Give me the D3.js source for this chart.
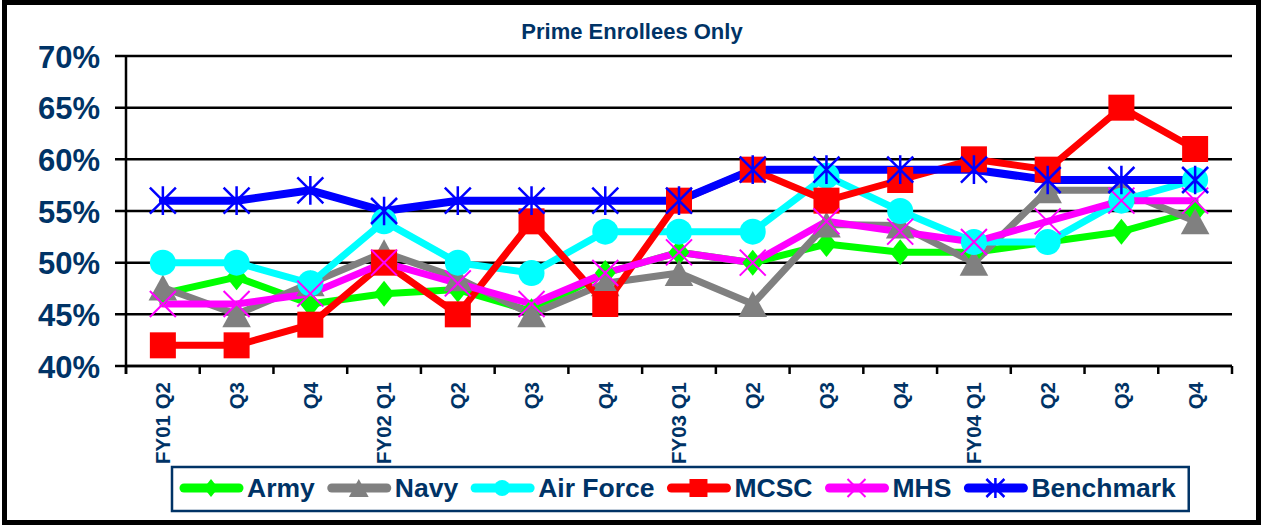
<!DOCTYPE html>
<html>
<head>
<meta charset="utf-8">
<script src="https://cdn.jsdelivr.net/npm/d3@7"></script>
<style>
  html, body { margin: 0; padding: 0; background: #fff; }
  svg { display: block; font-family: "Liberation Sans", Arial, sans-serif; }
</style>
</head>
<body>
<svg id="chart" width="1263" height="527"></svg>
<script>
// ---- data ----
const categories = ["FY01 Q2","Q3","Q4","FY02 Q1","Q2","Q3","Q4","FY03 Q1","Q2","Q3","Q4","FY04 Q1","Q2","Q3","Q4"];
const army      = [47, 48.6, 46, 47, 47.4, 45.3, 49, 51, 50, 51.8, 51, 51, 52, 53, 55];
const navy      = [47.6, 45, 48, 51, 48.5, 45, 48, 49, 46, 53.7, 53.6, 50, 57, 57, 54];
const airForce  = [50, 50, 48, 54, 50, 49, 53, 53, 53, 58.4, 55, 52, 52, 56, 58];
const mcsc      = [42, 42, 44, 50, 45, 54, 46, 56, 59, 56, 58, 60, 59, 65, 61];
const mhs       = [46, 46, 47, 50, 48, 46, 49, 51, 50, 54, 53, 52, 54, 56, 56];
const benchmark = [56, 56, 57, 55, 56, 56, 56, 56, 59, 59, 59, 59, 58, 58, 58];
const seriesNames = ["Army", "Navy", "Air Force", "MCSC", "MHS", "Benchmark"];
const yTickValues = [40, 45, 50, 55, 60, 65, 70];
const titleText = "Prime Enrollees Only";

// ---- styles ----
const colors = ["#00FF00", "#808080", "#00FFFF", "#FF0000", "#FF00FF", "#0000FF"];
const markers = ["diamond", "triangle", "circle", "square", "x", "asterisk"];
const lineWidths = [7, 7, 7, 7, 7, 8];
const textColor = "#003366";

const series = [army, navy, airForce, mcsc, mhs, benchmark].map((vals, i) => ({
  name: seriesNames[i], values: vals, color: colors[i], marker: markers[i], width: lineWidths[i]
}));

const svg = d3.select("#chart");

// outer border
svg.append("rect").attr("x", 4.5).attr("y", 2.5).attr("width", 1254).attr("height", 520)
  .attr("fill", "#fff").attr("stroke", "#000").attr("stroke-width", 5);

// title
svg.append("text").attr("x", 632).attr("y", 39).attr("text-anchor", "middle")
  .attr("font-size", 22).attr("font-weight", "bold").attr("fill", textColor).text(titleText);

const pLeft = 126, pRight = 1232, pTop = 56, pBottom = 366;
const x = d3.scaleBand().domain(d3.range(categories.length)).range([pLeft, pRight]).padding(0);
const y = d3.scaleLinear().domain([40, 70]).range([pBottom, pTop]);
const cx = i => x(i) + x.bandwidth() / 2;

// gridlines
svg.append("g").selectAll("line").data(yTickValues).join("line")
  .attr("x1", pLeft - 11).attr("x2", pRight).attr("y1", d => y(d)).attr("y2", d => y(d))
  .attr("stroke", "#000").attr("stroke-width", 2.5);

// y axis (labels)
const yAxis = d3.axisLeft(y).tickValues(yTickValues).tickSize(0).tickPadding(26)
  .tickFormat(d => d + "%");
const gy = svg.append("g").attr("transform", `translate(${pLeft},0)`).call(yAxis);
gy.select(".domain").remove();
gy.selectAll("text").attr("font-size", 31).attr("font-weight", "bold").attr("fill", textColor)
  .attr("font-family", "'Liberation Sans', Arial, sans-serif").attr("dy", "0.36em");

// y axis line
svg.append("line").attr("x1", pLeft).attr("x2", pLeft).attr("y1", pTop).attr("y2", pBottom + 8)
  .attr("stroke", "#000").attr("stroke-width", 2.5);
// x axis line
svg.append("line").attr("x1", pLeft).attr("x2", pRight).attr("y1", pBottom).attr("y2", pBottom)
  .attr("stroke", "#000").attr("stroke-width", 2.5);
// x boundary ticks
svg.append("g").selectAll("line").data(d3.range(categories.length + 1)).join("line")
  .attr("x1", i => pLeft + i * x.step()).attr("x2", i => pLeft + i * x.step())
  .attr("y1", pBottom).attr("y2", pBottom + 8).attr("stroke", "#000").attr("stroke-width", 2.5);

// x axis labels
const xAxis = d3.axisBottom(x).tickSize(0).tickFormat(i => categories[i]);
const gx = svg.append("g").attr("transform", `translate(0,${pBottom})`).call(xAxis);
gx.select(".domain").remove();
gx.selectAll("text")
  .attr("font-size", 20.5).attr("font-weight", "bold").attr("fill", textColor)
  .attr("font-family", "'Liberation Sans', Arial, sans-serif")
  .attr("text-anchor", "end").attr("transform", "translate(0,16) rotate(-90)")
  .attr("x", 0).attr("y", 0).attr("dy", "0.36em");

// marker drawing
function drawMarker(g, type, color, s) {
  if (type === "diamond") {
    g.append("path").attr("d", `M0,${-s}L${s*0.8},0L0,${s}L${-s*0.8},0Z`).attr("fill", color);
  } else if (type === "triangle") {
    g.append("path").attr("d", `M0,${-s}L${s*1.1},${s}L${-s*1.1},${s}Z`).attr("fill", color);
  } else if (type === "circle") {
    g.append("circle").attr("r", s).attr("fill", color);
  } else if (type === "square") {
    g.append("rect").attr("x", -s).attr("y", -s).attr("width", 2*s).attr("height", 2*s).attr("fill", color);
  } else if (type === "x" || type === "asterisk") {
    const sw = type === "x" ? 2 : 2.5;
    g.append("path").attr("d", `M${-s},${-s}L${s},${s}M${-s},${s}L${s},${-s}` + (type === "asterisk" ? `M0,${-s*1.1}L0,${s*1.1}` : ""))
      .attr("stroke", color).attr("stroke-width", sw).attr("fill", "none");
  }
}

const line = d3.line().x((d, i) => cx(i)).y(d => y(d));

// lines first
svg.append("g").selectAll("path").data(series).join("path")
  .attr("d", s => line(s.values)).attr("fill", "none")
  .attr("stroke", s => s.color).attr("stroke-width", s => s.width)
  .attr("stroke-linejoin", "round").attr("stroke-linecap", "round");

// markers
const mg = svg.append("g");
series.forEach(s => {
  s.values.forEach((v, i) => {
    const g = mg.append("g").attr("transform", `translate(${cx(i)},${y(v)})`);
    drawMarker(g, s.marker, s.color, 13);
  });
});

// legend
const legend = svg.append("g");
const legendBox = legend.append("rect").attr("fill", "#fff").attr("stroke", textColor).attr("stroke-width", 2.5);
let lx = 180;
const ly = 488;
series.forEach(s => {
  legend.append("line").attr("x1", lx + 4).attr("x2", lx + 59).attr("y1", ly).attr("y2", ly)
    .attr("stroke", s.color).attr("stroke-width", 9).attr("stroke-linecap", "round");
  const g = legend.append("g").attr("transform", `translate(${lx + 31},${ly})`);
  drawMarker(g, s.marker, s.color, s.marker === "circle" ? 8 : 9);
  const t = legend.append("text").attr("x", lx + 67).attr("y", ly).attr("dy", "0.35em")
    .attr("font-size", 26.5).attr("font-weight", "bold").attr("fill", textColor).text(s.name);
  lx = lx + 67 + t.node().getComputedTextLength() + 13;
});
legendBox.attr("x", 172).attr("y", 467).attr("width", lx - 172).attr("height", 44);
</script>
</body>
</html>
